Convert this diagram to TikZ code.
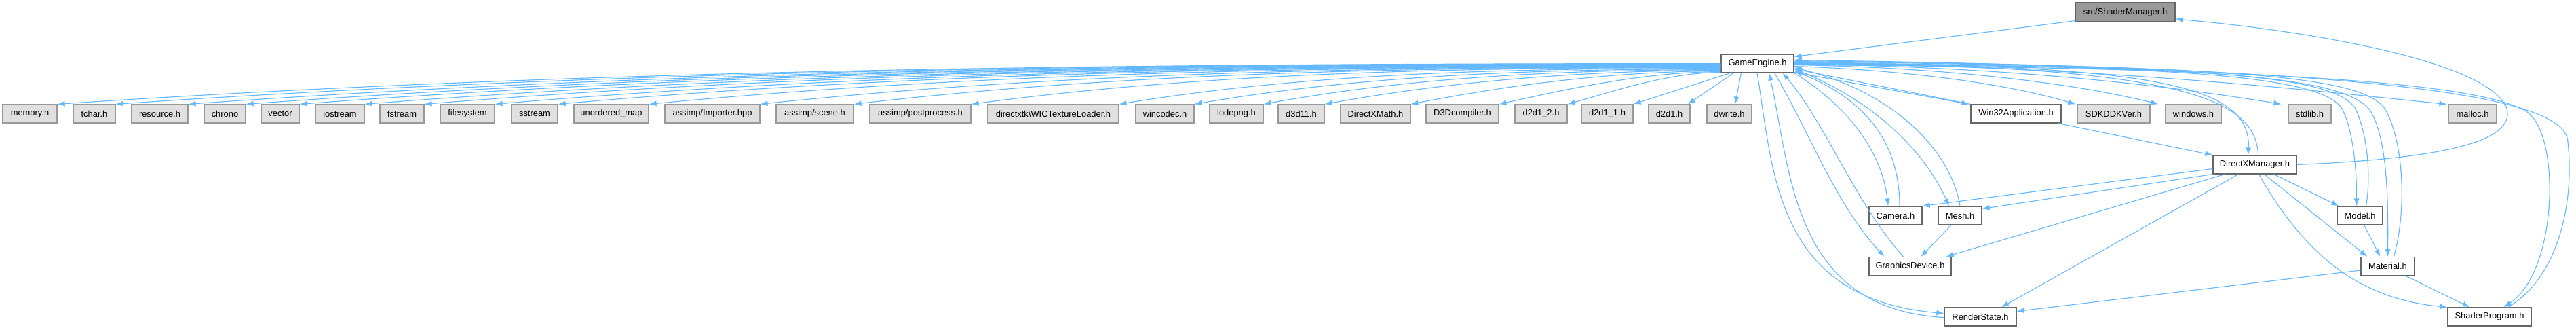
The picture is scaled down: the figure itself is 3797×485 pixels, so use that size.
\documentclass[tikz,border=0pt]{standalone}
\usepackage{fontspec}
\setmainfont{Liberation Sans}
\usetikzlibrary{arrows.meta,calc}
\definecolor{edgeblue}{RGB}{99,184,255}
\definecolor{sysfill}{RGB}{224,224,224}
\definecolor{sysline}{RGB}{153,153,153}
\definecolor{hdrline}{RGB}{102,102,102}
\definecolor{rootfill}{RGB}{153,153,153}

\begin{document}
\begin{tikzpicture}[x=1pt,y=1pt,font=\fontsize{12.9}{15}\selectfont,
  hdr/.style={draw=hdrline,fill=white,line width=1.2pt,minimum height=27pt,inner sep=0pt},
  sys/.style={hdr,draw=sysline,fill=sysfill},
  root/.style={hdr,fill=rootfill,minimum height=28pt},
  incl/.style={draw=edgeblue,line width=1.1pt,-{Latex[length=11pt,width=8pt]}}]
\path[fill=white] (0,0) rectangle (3797,-485);
\useasboundingbox (0,0) rectangle (3797,-485);

\node[root,minimum width=147] (sm) at (3132.5,-18) {src/ShaderManager.h};
\node[hdr,minimum width=107] (ge) at (2590.5,-93.5) {GameEngine.h};
% system headers, one row
\foreach \n/\t/\x/\w in {memory/memory.h/44/80, tchar/tchar.h/139/62, resource/resource.h/235.5/83,
  chrono/chrono/331.5/61, vector/vector/413/56, iostream/iostream/501/72, fstream/fstream/592.5/65,
  filesystem/filesystem/689/80, sstream/sstream/788/68, umap/unordered\_map/901/110,
  importer/{assimp/Importer.hpp}/1050/140, scene/{assimp/scene.h}/1201/114,
  postproc/{assimp/postprocess.h}/1356.5/149, wicload/directxtk\textbackslash WICTextureLoader.h/1552.5/193,
  wincodec/wincodec.h/1717/86, lodepng/lodepng.h/1822.5/79, dxd/d3d11.h/1918/68,
  dxmath/DirectXMath.h/2027.5/103, dcomp/D3Dcompiler.h/2155.5/107, dtwo/d2d1\_2.h/2271.5/77,
  done/d2d1\_1.h/2369/76, dd/d2d1.h/2460.5/61, dwrite/dwrite.h/2549/66,
  sdk/SDKDDKVer.h/3115.5/107, windows/windows.h/3233/82, stdlib/stdlib.h/3404.5/63, malloc/malloc.h/3644.5/71}
  \node[sys,minimum width=\w] (\n) at (\x,-167.5) {\t};
\node[hdr,minimum width=133] (win) at (2971.5,-167.5) {Win32Application.h};
\node[hdr,minimum width=123] (dxm) at (3323.5,-242.5) {DirectXManager.h};
\node[hdr,minimum width=78] (cam) at (2794,-317.5) {Camera.h};
\node[hdr,minimum width=64] (mesh) at (2889,-317.5) {Mesh.h};
\node[hdr,minimum width=67] (model) at (3478.5,-317.5) {Model.h};
\node[hdr,minimum width=121] (gd) at (2815.5,-392) {GraphicsDevice.h};
\node[hdr,minimum width=79] (mat) at (3519.5,-392) {Material.h};
\node[hdr,minimum width=106] (rs) at (2919,-466.5) {RenderState.h};
\node[hdr,minimum width=123] (sp) at (3669.5,-466.5) {ShaderProgram.h};

\draw[incl] ([yshift=2]sm.south west) -- ([yshift=10]ge.east);
% GameEngine.h to the left row
\foreach \h/\s/\f in {memory/14/.9, tchar/13.5/.9, resource/13/.9, chrono/12.5/.9, vector/12/.9,
  iostream/11.5/.9, fstream/11/.9, filesystem/10.5/.9, sstream/10/.9, umap/9.5/.9, importer/9/.9,
  scene/8.5/.9, postproc/8/.9, wicload/7/.9, wincodec/6/.85, lodepng/5/.8, dxd/4/.7, dxmath/3/.6,
  dcomp/2/.5, dtwo/1/.45}
  \draw[incl] let \p1=([yshift=\s]ge.south west), \p2=(\h.north east) in
    (\p1) .. controls ({\x1-0.33*(\x1-\x2)},\y1) and ({\x2+0.33*(\x1-\x2)},{\y2+\f*(\y1-\y2)}) .. (\p2);
\foreach \n/\s/\e in {done/14/0, dd/19/-4, dwrite/30/-25}
  \draw[incl] ([xshift=\s]ge.south west) -- ([xshift=\e]\n.north east);
% GameEngine.h to the right row
\draw[incl] ([yshift=-13]ge.east) -- ([xshift=-2]win.north west);
\draw[incl] (win.north west) -- ([yshift=-8]ge.east);
\draw[incl] ([yshift=-4]ge.east) .. controls (2850,-105) and (2980,-130) .. ([xshift=-2]sdk.north west);
\draw[incl] ([yshift=-2]ge.east) .. controls (2900,-100) and (3080,-128) .. ([xshift=-10]windows.north west);
\draw[incl] ([yshift=-1]ge.east) .. controls (3000,-98) and (3250,-135) .. ([xshift=-10]stdlib.north west);
\draw[incl] (ge.east) .. controls (3100,-96) and (3450,-138) .. ([xshift=-2]malloc.north west);
% GameEngine.h and the headers that include it back
\draw[incl] (ge.east) .. controls (3150,-95) and (3320,-120) .. ([xshift=-10]dxm.north);
\draw[incl] ([xshift=5]dxm.north) .. controls (3325,-140) and (3200,-98) .. ([yshift=2]ge.east);
\draw[incl] ([yshift=1]ge.east) .. controls (3200,-97) and (3420,-110) .. (3452,-160)
  .. controls (3468,-190) and (3474,-250) .. ([xshift=-5]model.north);
\draw[incl] ([xshift=9]model.north) .. controls (3495,-260) and (3490,-200) .. (3472,-160)
  .. controls (3440,-110) and (3250,-98) .. ([yshift=3]ge.east);
\draw[incl] ([yshift=-1]ge.east) .. controls (3250,-97) and (3460,-110) .. (3495,-165)
  .. controls (3520,-210) and (3520,-300) .. (mat.north);
\draw[incl] ([xshift=9]mat.north) .. controls (3550,-300) and (3540,-200) .. (3515,-160)
  .. controls (3480,-110) and (3280,-98) .. ([yshift=4]ge.east);
\draw[incl] ([yshift=-2]ge.east) .. controls (3400,-100) and (3660,-125) .. (3725,-165)
  .. controls (3775,-200) and (3770,-400) .. ([xshift=21]sp.north);
\draw[incl] ([xshift=27]sp.north) .. controls (3770,-410) and (3795,-300) .. (3785,-210)
  .. controls (3785,-140) and (3500,-100) .. ([yshift=5]ge.east);
\draw[incl] ([xshift=-0.5]ge.south) .. controls (2614,-250) and (2614,-440) .. ([yshift=5]rs.west);
\draw[incl] ([yshift=-1]rs.west) .. controls (2640,-455) and (2640,-250) .. ([xshift=17]ge.south);
\draw[incl] ([xshift=25]ge.south) .. controls (2665,-190) and (2705,-300) .. ([xshift=-38]gd.north);
\draw[incl] ([xshift=-10]gd.north) .. controls (2735,-300) and (2690,-180) .. ([xshift=37]ge.south);
\draw[incl] (ge.south east) .. controls (2730,-160) and (2775,-230) .. ([xshift=-11]cam.north);
\draw[incl] ([xshift=6]cam.north) .. controls (2800,-220) and (2760,-150) .. ([yshift=-11]ge.east);
\draw[incl] ([yshift=-8]ge.east) .. controls (2770,-150) and (2840,-230) .. ([xshift=-16]mesh.north);
\draw[incl] (mesh.north) .. controls (2875,-220) and (2790,-135) .. ([yshift=-6]ge.east);
% DirectXManager.h and the rest
\draw[incl] (dxm.east) .. controls (3640,-232) and (3705,-200) .. (3695,-160)
  .. controls (3670,-90) and (3400,-45) .. ([yshift=-10]sm.east);
\draw[incl] ([xshift=-5]win.south east) -- (dxm.north west);
\draw[incl] ([yshift=-6]dxm.west) -- (cam.north east);
\draw[incl] (dxm.south west) -- ([yshift=-4]mesh.north east);
\draw[incl] ([xshift=18]dxm.south west) -- ([xshift=-8]gd.north east);
\draw[incl] ([xshift=38]dxm.south west) -- ([xshift=31]rs.north);
\draw[incl] ([xshift=28]dxm.south) -- ([xshift=3]model.north west);
\draw[incl] ([xshift=14]dxm.south) -- ([xshift=10]mat.north west);
\draw[incl] ([xshift=6]dxm.south) .. controls (3400,-380) and (3480,-440) .. (sp.north west);
\draw[incl] ([xshift=-13]mesh.south) -- ([xshift=16]gd.north);
\draw[incl] ([xshift=6]model.south) -- ([xshift=-11]mat.north);
\draw[incl] ([xshift=26]mat.south) -- ([xshift=-29]sp.north);
\draw[incl] ([yshift=-6]mat.west) -- ([yshift=8]rs.east);
\end{tikzpicture}
\end{document}
